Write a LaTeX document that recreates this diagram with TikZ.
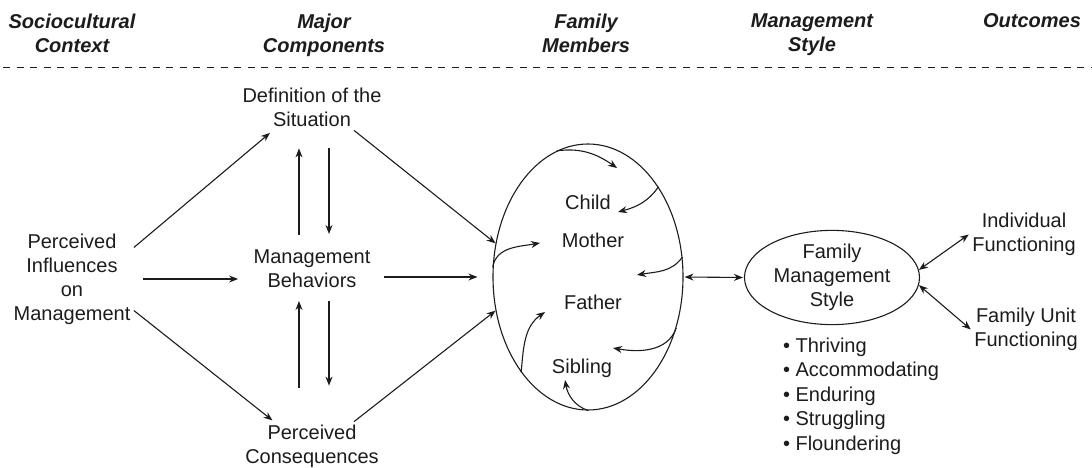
\documentclass[tikz,border=0pt]{standalone}
\usepackage{fontspec}
\setmainfont{Liberation Sans}
\usepackage{xcolor}
\usetikzlibrary{shapes.geometric, arrows.meta}
\definecolor{inkcolor}{HTML}{1c1c1c}
\tikzset{
    txt/.style = {align = center, text = inkcolor, font = \fontsize{20}{24}\selectfont},
    head/.style = {align = center, text = inkcolor, font = \fontsize{20}{24}\selectfont\bfseries\itshape},
    link/.style = {->, > = {Stealth[length = 9pt, width = 7pt]}, line width = 1.1pt, draw = inkcolor},
    twoway/.style = {<->, > = {Stealth[length = 9pt, width = 7pt]}, line width = 1.1pt, draw = inkcolor},
}
\begin{document}
\begin{tikzpicture}[x = 1pt, y = 1pt]

        \useasboundingbox (0, 0) rectangle (1092, 467);

        % Headings
        \node [head] (h1) at (72, 434) {Sociocultural\\Context};
        \node [head] (h2) at (324, 432) {Major\\Components};
        \node [head] (h3) at (586, 434) {Family\\Members};
        \node [head] (h4) at (812, 432) {Management\\Style};
        \node [head] (h5) at (1032, 446) {Outcomes};
        \draw [dash pattern = on 7pt off 6.6pt, line width = 1pt, draw = inkcolor] (3, 399) -- (1092, 399);

        % Components
        \node [txt] (pim) at (72, 188) {Perceived\\Influences\\on\\Management};
        \node [txt] (defs) at (312, 359.5) {Definition of the\\Situation};
        \node [txt] (mb) at (312, 198.5) {Management\\Behaviors};
        \node [txt] (pc) at (312, 20.5) {Perceived\\Consequences};

        % Family members
        \node [draw = inkcolor, line width = 1.1pt, ellipse, minimum width = 190pt, minimum height = 266pt, inner sep = 0pt] (fam) at (588, 190) {};
        \node [txt] (child) at (588, 265) {Child};
        \node [txt] (mother) at (593, 227) {Mother};
        \node [txt] (father) at (593, 165) {Father};
        \node [txt] (sibling) at (582, 99) {Sibling};

        % Style and outcomes
        \node [txt, draw = inkcolor, line width = 1.1pt, ellipse, minimum width = 175pt, minimum height = 85pt, inner sep = 0pt] (fms) at (832, 189.5) {Family\\Management\\Style};
        \node [txt, align = left, anchor = west, font = \fontsize{20}{24.5}\selectfont] (types) at (779.5, 71) {\textbullet\ Thriving\\\textbullet\ Accommodating\\\textbullet\ Enduring\\\textbullet\ Struggling\\\textbullet\ Floundering};
        \node [txt] (indiv) at (1024, 232.5) {Individual\\Functioning};
        \node [txt] (unit) at (1026, 137.5) {Family Unit\\Functioning};

        \coordinate (tipa) at (617, 299);
        \coordinate (tipb) at (618, 255);
        \coordinate (tipc) at (540, 224);
        \coordinate (tipd) at (637, 192);
        \coordinate (tipe) at (545, 155);
        \coordinate (tipf) at (613, 119);
        \coordinate (tipg) at (565, 87);

        % Left side
        \draw [link, shorten > = 4pt] (pim.27) -- ([xshift = -39pt] defs.south);
        \draw [link, shorten < = 9pt, shorten > = 12pt] (pim.east) -- (pim.east -| mb.west);
        \draw [link, shorten > = 2pt] (pim.-27) -- ([xshift = -38pt] pc.north);
        \draw [link, shorten < = 11pt, shorten > = 18pt] ([xshift = -13pt] mb.north) -- ([xshift = -13pt] defs.south);
        \draw [link, shorten < = 18pt, shorten > = 12pt] ([xshift = 17pt] defs.south) -- ([xshift = 17pt] mb.north);
        \draw [link, shorten < = 34pt, shorten > = 10pt] ([xshift = -13pt] pc.north) -- ([xshift = -13pt] mb.south);
        \draw [link, shorten < = 10pt, shorten > = 36pt] ([xshift = 17pt] mb.south) -- ([xshift = 17pt] pc.north);
        \draw [link] ([xshift = 42pt] defs.south) -- (fam.160);
        \draw [link, shorten < = 10pt, shorten > = 15pt] (mb.east |- fam.west) -- (fam.west);
        \draw [link] ([xshift = 42pt] pc.north) -- (fam.200);

        % Inside the family
        \draw [link] (fam.104) to [out = 8, in = 145] (tipa);
        \draw [link] (fam.52) to [out = 235, in = 15] (tipb);
        \draw [link] (fam.174) to [out = 80, in = 190] (tipc);
        \draw [link] (fam.12) to [out = 235, in = 10] (tipd);
        \draw [link] (fam.235) to [out = 85, in = 215] (tipe);
        \draw [link] (fam.-30) to [out = 250, in = -10] (tipf);
        \draw [link] (fam.south) to [out = 160, in = -80] (tipg);

        % Right side
        \draw [twoway, shorten < = 1pt, shorten > = 1pt] (fam.east) -- (fms.west);
        \draw [twoway] (fms.5) -- (indiv.west);
        \draw [twoway] (fms.-5) -- (unit.west);

\end{tikzpicture}
\end{document}
